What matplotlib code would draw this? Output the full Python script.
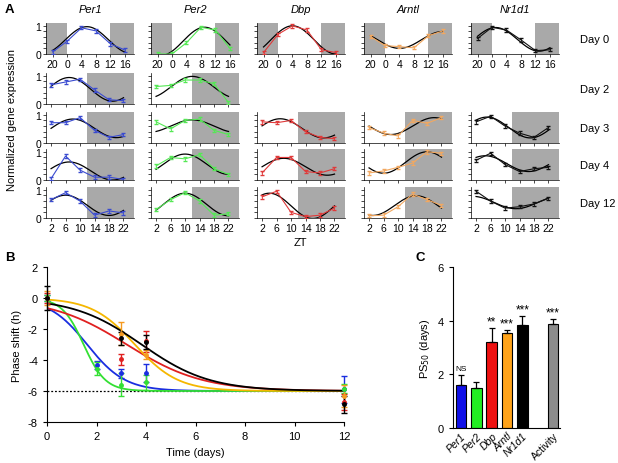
#recreate the three panel circadian figure: expression per day (A), phase shift (B), PS50 bars (C)
import numpy as np
import matplotlib.pyplot as plt

plt.rcParams["font.family"] = ["Liberation Sans", "DejaVu Sans"]
plt.rcParams["axes.unicode_minus"] = False

#panel A data
genes = ["Per1", "Per2", "Dbp", "Arntl", "Nr1d1"]
day_labels = ["Day 0", "Day 2", "Day 3", "Day 4", "Day 12"]
zt_day0 = [20, 0, 4, 8, 12, 16]
zt_later = [2, 6, 10, 14, 18, 22]

#normalized expression, one list per day (None = not measured)
per1_expr = [[0.07, 0.45, 0.93, 0.82, 0.36, 0.14],
             [0.68, 0.78, 0.88, 0.50, 0.15, 0.12],
             [0.72, 0.72, 0.90, 0.45, 0.20, 0.30],
             [0.05, 0.85, 0.35, 0.10, 0.10, 0.02],
             [0.65, 0.90, 0.60, 0.10, 0.25, 0.18]]
per2_expr = [[0.00, 0.00, 0.40, 0.95, 0.85, 0.20],
             [0.62, 0.66, 0.85, 0.85, 0.72, 0.05],
             [0.75, 0.50, 0.80, 0.85, 0.45, 0.30],
             [0.50, 0.80, 0.75, 0.90, 0.40, 0.20],
             [0.30, 0.65, 0.90, 0.60, 0.10, 0.15]]
dbp_expr = [[0.05, 0.70, 1.00, 0.85, 0.15, 0.05],
            None,
            [0.75, 0.72, 0.80, 0.40, 0.20, 0.15],
            [0.25, 0.80, 0.80, 0.30, 0.25, 0.40],
            [0.75, 0.95, 0.20, 0.05, 0.10, 0.35]]
arntl_expr = [[0.62, 0.30, 0.26, 0.22, 0.65, 0.82],
              None,
              [0.55, 0.35, 0.25, 0.80, 0.70, 0.90],
              [0.25, 0.32, 0.45, 0.60, 1.00, 0.95],
              [0.08, 0.10, 0.40, 0.85, 0.65, 0.45]]
nr1d1_expr = [[0.55, 0.95, 0.85, 0.50, 0.12, 0.15],
              None,
              [0.75, 0.95, 0.60, 0.35, 0.20, 0.55],
              [0.70, 0.95, 0.55, 0.30, 0.40, 0.45],
              [0.95, 0.60, 0.35, 0.40, 0.50, 0.70]]

#cosine fits per day: (mesor, amplitude, peak ZT)
per1_fit = [(0.50, 0.47, 5.5), (0.52, 0.42, 7), (0.52, 0.33, 8), (0.32, 0.32, 7), (0.45, 0.36, 6)]
per2_fit = [(0.45, 0.50, 9), (0.60, 0.38, 12), (0.60, 0.22, 12), (0.56, 0.36, 10), (0.48, 0.40, 10)]
dbp_fit = [(0.50, 0.50, 4), None, (0.52, 0.34, 7), (0.47, 0.30, 8), (0.43, 0.45, 4)]
arntl_fit = [(0.50, 0.30, 16), None, (0.60, 0.30, 20), (0.62, 0.38, 18), (0.44, 0.35, 15)]
nr1d1_fit = [(0.52, 0.42, 1), None, (0.55, 0.37, 5), (0.58, 0.28, 4.5), (0.55, 0.22, 1)]

expr_all = [per1_expr, per2_expr, dbp_expr, arntl_expr, nr1d1_expr]
fit_all = [per1_fit, per2_fit, dbp_fit, arntl_fit, nr1d1_fit]
line_colors = ["#3a4bd0", "#55e855", "#e03a3a", "#f2a860", "#111111"]

#panel B data (phase shift in hours)
b_days_per = [0, 2, 3, 4, 12]
b_days_other = [0, 3, 4, 12]
per1_shift = [0, -4.3, -4.85, -4.85, -5.9]
per1_err = [0.2, 0.25, 0.3, 0.6, 0.9]
per2_shift = [0, -4.55, -5.6, -5.45, -5.85]
per2_err = [0.2, 0.4, 0.75, 0.5, 0.3]
dbp_shift = [0, -3.95, -2.8, -6.7]
dbp_err = [0.3, 0.35, 0.7, 0.5]
arntl_shift = [0, -2.3, -3.65, -6.3]
arntl_err = [0.45, 0.75, 0.3, 0.7]
nr1d1_shift = [0, -2.6, -2.85, -6.85]
nr1d1_err = [0.8, 0.4, 0.45, 0.55]
fit_start = [-0.65, -0.2, -0.65, -0.1, -0.35]

#panel C data
c_labels = ["Per1", "Per2", "Dbp", "Arntl", "Nr1d1", "Activity"]
ps50 = [1.62, 1.48, 3.22, 3.55, 3.82, 3.88]
ps50_err = [0.37, 0.25, 0.5, 0.12, 0.35, 0.2]
c_sig = ["NS", "", "**", "***", "***", "***"]
c_colors = ["#1010e8", "#22ee22", "#ee1111", "#ffa31a", "#000000", "#8c8c8c"]

W, H = 618, 464
fig = plt.figure(figsize=(W / 100, H / 100), dpi=100)

def frac_box(left, top, width, height):
    return [left / W, 1 - (top + height) / H, width / W, height / H]

#panel A
col_left = [46, 151, 257, 364, 471]
row_top = [24, 74, 113, 150, 188]
gray = "#a9a9a9"
for c, gene in enumerate(genes):
    for r in range(5):
        vals = expr_all[c][r]
        if vals is None:
            continue
        ax = fig.add_axes(frac_box(col_left[c], row_top[r], 88, 31))
        if r == 0:
            xs = [z + 24 if z < 20 else z for z in zt_day0]
            ax.set_xlim(18.2, 42.5)
            ax.axvspan(18.2, 24, color=gray, lw=0)
            ax.axvspan(36, 42.5, color=gray, lw=0)
        else:
            xs = zt_later
            ax.set_xlim(0.6, 24.9)
            ax.axvspan(12, 24.9, color=gray, lw=0)
        mesor, amp, peak = fit_all[c][r]
        t = np.linspace(xs[0], xs[-1], 200)
        ax.plot(t, mesor + amp * np.cos(2 * np.pi * (t - peak) / 24), color="black", lw=0.9, zorder=3)
        ax.errorbar(xs, vals, yerr=0.06, color=line_colors[c], lw=0.8, elinewidth=0.6,
                    capsize=1.2, zorder=4)
        ax.set_ylim(0, 1.1)
        ax.set_yticks(np.arange(0, 1.01, 0.2))
        if c == 0:
            ax.set_yticklabels(["0", "", "", "", "", "1"])
        else:
            ax.set_yticklabels([])
        ax.set_xticks(xs)
        if r == 0:
            ax.set_xticklabels([str(z) for z in zt_day0])
        elif r == 4:
            ax.set_xticklabels([str(z) for z in zt_later])
        else:
            ax.set_xticklabels([])
        ax.tick_params(length=2, width=0.5, labelsize=7.5, pad=1.5)
        for s in ["top", "right"]:
            ax.spines[s].set_visible(False)
        for s in ["left", "bottom"]:
            ax.spines[s].set_linewidth(0.5)
    fig.text((col_left[c] + 44) / W, 1 - 10 / H, gene, style="italic", fontsize=8,
             ha="center", va="center")

for r, lab in enumerate(day_labels):
    fig.text(580 / W, 1 - (row_top[r] + 16) / H, lab, fontsize=8, ha="left", va="center")
fig.text(300 / W, 1 - 243 / H, "ZT", fontsize=8, ha="center", va="center")
fig.text(12 / W, 1 - 120 / H, "Normalized gene expression", fontsize=8, rotation=90,
         ha="center", va="center")

#panel B
axb = fig.add_axes(frac_box(47, 268, 297, 155))
t = np.linspace(0, 12, 400)
b_series = [(b_days_per, per1_shift, per1_err), (b_days_per, per2_shift, per2_err),
            (b_days_other, dbp_shift, dbp_err), (b_days_other, arntl_shift, arntl_err),
            (b_days_other, nr1d1_shift, nr1d1_err)]
curve_colors = ["#1a2ee0", "#33e033", "#e02020", "#f5b700", "#000000"]
point_colors = ["#1a2ee0", "#33e033", "#e02020", "#f59a20", "#000000"]
axb.plot([0, 12], [-6, -6], color="black", lw=0.9, ls=(0, (1.5, 1.5)))
for i in range(5):
    k = ps50[i] / np.log(-6 / fit_start[i] - 1)
    axb.plot(t, -6 / (1 + np.exp(-(t - ps50[i]) / k)), color=curve_colors[i], lw=1.3)
for i in range(5):
    d, v, e = b_series[i]
    axb.errorbar(d, v, yerr=e, fmt="o", ms=2.5, color=point_colors[i], elinewidth=1,
                 capsize=2.5, capthick=1, clip_on=False, zorder=5)
axb.set_xlim(0, 12)
axb.set_ylim(-8, 2)
axb.set_xticks(range(0, 13, 2))
axb.set_yticks(range(-8, 3, 2))
axb.tick_params(length=3, width=0.8, labelsize=8)
for s in ["top", "right"]:
    axb.spines[s].set_visible(False)
axb.set_xlabel("Time (days)", fontsize=8, labelpad=4)
axb.set_ylabel("Phase shift (h)", fontsize=8, labelpad=4)

#panel C
axc = fig.add_axes(frac_box(453, 268, 107, 161))
xpos = [0, 1, 2, 3, 4, 6]
axc.bar(xpos, ps50, width=0.7, color=c_colors, edgecolor="black", lw=0.8,
        yerr=[np.zeros(6), ps50_err], error_kw=dict(elinewidth=0.9, capsize=2.5, capthick=0.9))
for x, v, e, s in zip(xpos, ps50, ps50_err, c_sig):
    if s == "NS":
        axc.text(x, v + e + 0.1, s, fontsize=6, ha="center", va="bottom")
    elif s:
        axc.text(x, v + e + 0.02, s, fontsize=8.5, ha="center", va="bottom")
axc.set_xlim(-0.52, 6.45)
axc.set_ylim(0, 6)
axc.set_yticks([0, 2, 4, 6])
axc.set_xticks(xpos)
axc.set_xticklabels(c_labels, rotation=45, ha="right", rotation_mode="anchor", fontsize=7.5)
for lbl in axc.get_xticklabels()[:5]:
    lbl.set_style("italic")
axc.tick_params(axis="x", length=0, pad=2)
axc.tick_params(axis="y", length=3, width=0.8, labelsize=8)
for s in ["top", "right"]:
    axc.spines[s].set_visible(False)
axc.set_ylabel("PS$_{50}$ (days)", fontsize=8, labelpad=4)

#panel letters
fig.text(5 / W, 1 - 10 / H, "A", fontsize=9.5, fontweight="bold", va="center")
fig.text(5 / W, 1 - 258 / H, "B", fontsize=9.5, fontweight="bold", va="center")
fig.text(415 / W, 1 - 258 / H, "C", fontsize=9.5, fontweight="bold", va="center")

fig.savefig("out.png", dpi=100)
